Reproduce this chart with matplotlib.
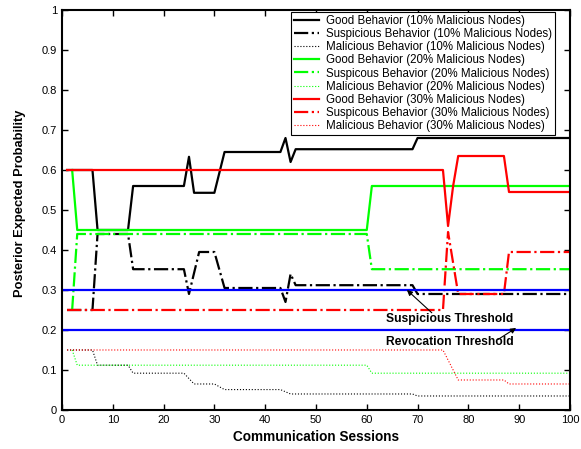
import matplotlib
matplotlib.use("Agg")
from matplotlib import pyplot as plt

plt.rcParams['font.family'] = ['Liberation Sans', 'DejaVu Sans']

# 10% malicious nodes (black)
x_good_10 = [1, 6, 7, 13, 14, 24, 25, 26, 30, 32, 43, 44, 45, 46, 69, 70, 100]
y_good_10 = [0.6, 0.6, 0.45, 0.45, 0.56, 0.56, 0.633, 0.543, 0.543, 0.645, 0.645, 0.68, 0.62, 0.652, 0.652, 0.68, 0.68]
x_susp_10 = [1, 6, 7, 13, 14, 24, 25, 27, 30, 32, 43, 44, 45, 46, 69, 70, 100]
y_susp_10 = [0.25, 0.25, 0.44, 0.44, 0.352, 0.352, 0.29, 0.395, 0.395, 0.305, 0.305, 0.27, 0.34, 0.312, 0.312, 0.29, 0.29]
x_mal_10 = [1, 6, 7, 13, 14, 24, 26, 30, 32, 43, 45, 69, 70, 100]
y_mal_10 = [0.15, 0.15, 0.112, 0.112, 0.092, 0.092, 0.065, 0.065, 0.051, 0.051, 0.04, 0.04, 0.035, 0.035]

# 20% malicious nodes (green)
x_good_20 = [2, 3, 60, 61, 100]
y_good_20 = [0.6, 0.45, 0.45, 0.56, 0.56]
x_susp_20 = [2, 3, 60, 61, 100]
y_susp_20 = [0.25, 0.44, 0.44, 0.352, 0.352]
x_mal_20 = [2, 3, 60, 61, 100]
y_mal_20 = [0.15, 0.112, 0.112, 0.092, 0.092]

# 30% malicious nodes (red)
x_good_30 = [1, 75, 76, 77, 78, 87, 88, 100]
y_good_30 = [0.6, 0.6, 0.46, 0.56, 0.635, 0.635, 0.545, 0.545]
x_susp_30 = [1, 75, 76, 78, 87, 88, 100]
y_susp_30 = [0.25, 0.25, 0.445, 0.29, 0.29, 0.395, 0.395]
x_mal_30 = [1, 75, 78, 87, 88, 100]
y_mal_30 = [0.15, 0.15, 0.075, 0.075, 0.065, 0.065]

suspicious_threshold = 0.3
revocation_threshold = 0.2

fig = plt.figure(figsize=(5.81, 4.49), dpi=100)
ax = fig.add_axes([0.1067, 0.0869, 0.8743, 0.8908])

lw = 1.6
ax.plot(x_good_10, y_good_10, color="k", lw=lw, label="Good Behavior (10% Malicious Nodes)")
ax.plot(x_susp_10, y_susp_10, color="k", lw=lw, ls="-.", label="Suspicious Behavior (10% Malicious Nodes)")
ax.plot(x_mal_10, y_mal_10, color="k", lw=0.8, ls=":", label="Malicious Behavior (10% Malicious Nodes)")
ax.plot(x_good_20, y_good_20, color="#00ff00", lw=lw, label="Good Behavior (20% Malicious Nodes)")
ax.plot(x_susp_20, y_susp_20, color="#00ff00", lw=lw, ls="-.", label="Suspicous Behavior (20% Malicious Nodes)")
ax.plot(x_mal_20, y_mal_20, color="#00ff00", lw=0.8, ls=":", label="Malicious Behavior (20% Malicious Nodes)")
ax.plot(x_good_30, y_good_30, color="#ff0000", lw=lw, label="Good Behavior (30% Malicious Nodes)")
ax.plot(x_susp_30, y_susp_30, color="#ff0000", lw=lw, ls="-.", label="Suspicous Behavior (30% Malicious Nodes)")
ax.plot(x_mal_30, y_mal_30, color="#ff0000", lw=0.8, ls=":", label="Malicious Behavior (30% Malicious Nodes)")

ax.axhline(suspicious_threshold, color="#0000ff", lw=lw)
ax.axhline(revocation_threshold, color="#0000ff", lw=lw)

ax.text(76.3, 0.2275, "Suspicious Threshold", ha="center", va="center", fontsize=8.7, fontweight="bold")
ax.text(76.3, 0.17, "Revocation Threshold", ha="center", va="center", fontsize=8.7, fontweight="bold")
ax.annotate("", xy=(67.9, suspicious_threshold), xytext=(72.8, 0.243),
            arrowprops=dict(arrowstyle="-|>", color="k", lw=0.8, shrinkA=0, shrinkB=0,
                            mutation_scale=8))
ax.annotate("", xy=(89.4, 0.205), xytext=(85.8, 0.176),
            arrowprops=dict(arrowstyle="-|>", color="k", lw=0.8, shrinkA=0, shrinkB=0,
                            mutation_scale=8))

ax.set_xlim(0, 100)
ax.set_ylim(0, 1)
ax.set_xticks(range(0, 101, 10))
ax.set_yticks([i / 10 for i in range(11)])
ax.set_yticklabels(["0", "0.1", "0.2", "0.3", "0.4", "0.5", "0.6", "0.7", "0.8", "0.9", "1"])
ax.tick_params(direction="in", top=True, right=True, labelsize=8, length=4, width=1)
for s in ax.spines.values():
    s.set_linewidth(1.5)

ax.set_xlabel("Communication Sessions", fontsize=9.8, fontweight="bold", labelpad=4)
ax.set_ylabel("Posterior Expected Probability", fontsize=9.3, fontweight="bold")
ax.yaxis.set_label_coords(-0.07, 0.516)

leg = ax.legend(loc="upper right", bbox_to_anchor=(0.97, 0.995), fontsize=8.3,
                fancybox=False, edgecolor="k", framealpha=1, borderaxespad=0,
                labelspacing=0.1, handlelength=2.2, borderpad=0.25, handletextpad=0.6)
leg.get_frame().set_linewidth(0.8)

fig.savefig("out.png", dpi=100)
